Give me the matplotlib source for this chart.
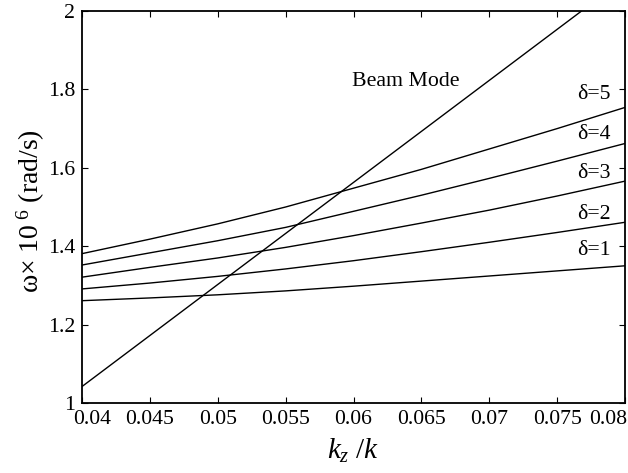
import matplotlib
matplotlib.use("Agg")
import matplotlib.pyplot as plt
import matplotlib.transforms as mtransforms

plt.rcParams['font.family'] = ['Liberation Serif', 'DejaVu Serif']
plt.rcParams['mathtext.fontset'] = 'custom'
plt.rcParams['mathtext.rm'] = 'Liberation Serif'
plt.rcParams['mathtext.it'] = 'Liberation Serif:italic'

# Data
kz = [0.04, 0.045, 0.05, 0.055, 0.06, 0.065, 0.07, 0.075, 0.08]
delta1 = [1.261, 1.268, 1.276, 1.286, 1.298, 1.311, 1.324, 1.337, 1.350]
delta2 = [1.291, 1.306, 1.323, 1.342, 1.363, 1.386, 1.410, 1.435, 1.461]
delta3 = [1.321, 1.346, 1.370, 1.397, 1.427, 1.459, 1.492, 1.528, 1.566]
delta4 = [1.352, 1.383, 1.414, 1.448, 1.489, 1.530, 1.573, 1.617, 1.662]
delta5 = [1.381, 1.418, 1.457, 1.500, 1.548, 1.596, 1.648, 1.700, 1.754]
beam_x = [0.04, 0.0768]
beam_y = [1.042, 2.0]
curve_labels = ['δ=1', 'δ=2', 'δ=3', 'δ=4', 'δ=5']
label_y = [1.390, 1.481, 1.586, 1.684, 1.7875]
xticks = [0.04, 0.045, 0.05, 0.055, 0.06, 0.065, 0.07, 0.075, 0.08]
xticklabels = ['0.04', '0.045', '0.05', '0.055', '0.06', '0.065', '0.07', '0.075', '0.08']
yticks = [1, 1.2, 1.4, 1.6, 1.8, 2]
yticklabels = ['1', '1.2', '1.4', '1.6', '1.8', '2']

fig = plt.figure(figsize=(6.28, 4.73), dpi=100)
ax = fig.add_axes([82/628, 70/473, 543/628, 392/473])

for ys in [delta1, delta2, delta3, delta4, delta5]:
    ax.plot(kz, ys, color='black', lw=1.0)
ax.plot(beam_x, beam_y, color='black', lw=1.0)

ax.set_xlim(0.04, 0.08)
ax.set_ylim(1, 2)
ax.set_xticks(xticks)
ax.set_xticklabels(xticklabels)
ax.set_yticks(yticks)
ax.set_yticklabels(yticklabels)
ax.tick_params(direction='in', length=4.5, width=0.8, top=True, right=True,
               labelsize=15.7, pad=5)
for s in ax.spines.values():
    s.set_linewidth(1.3)

# shift first and last x tick labels as in reference
tl = ax.get_xticklabels()
tl[0].set_transform(tl[0].get_transform() + mtransforms.ScaledTranslation(10/100, 0, fig.dpi_scale_trans))
tl[-1].set_transform(tl[-1].get_transform() + mtransforms.ScaledTranslation(-17/100, 0, fig.dpi_scale_trans))

for lab, yv in zip(curve_labels, label_y):
    ax.text(0.0765, yv, lab, ha='left', va='center', fontsize=15.7)
ax.text(0.0599, 1.821, 'Beam Mode', ha='left', va='center', fontsize=15.7)

ax.set_ylabel(r'ω× 10$^{\ 6}$ (rad/s)', fontsize=20)
ax.yaxis.set_label_coords(-0.064, 0.49)
ax.set_xlabel(r'$k_z\ /k$', fontsize=21)
ax.xaxis.set_label_coords(0.5, -0.087)

fig.savefig('out.png', dpi=100)
